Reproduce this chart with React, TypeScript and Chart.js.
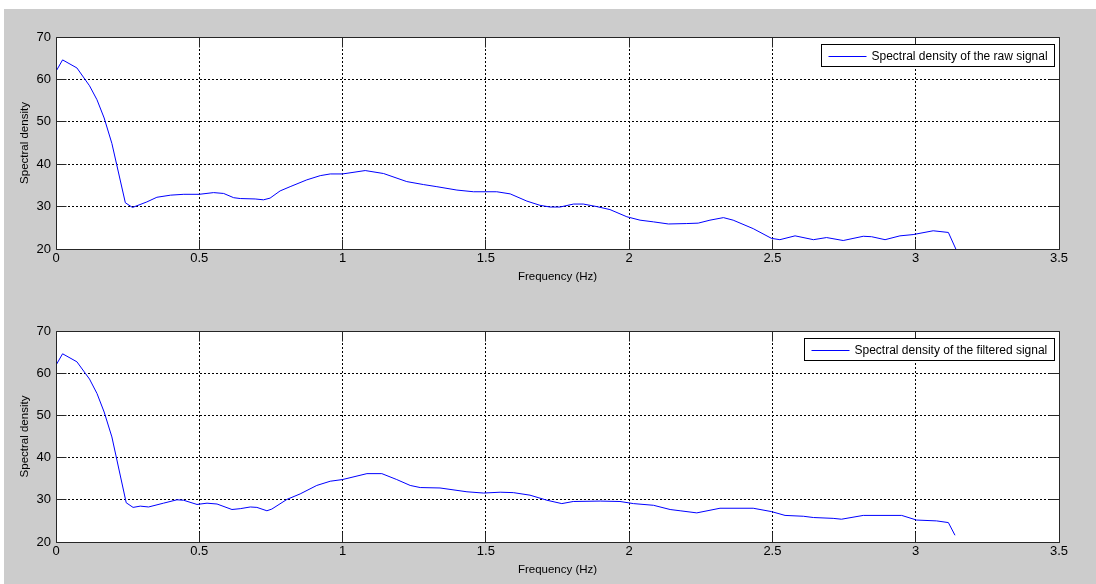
import React, { useEffect, useRef } from 'react';
import { Chart, registerables } from 'chart.js';

Chart.register(...registerables);

const xMin = 0;
const xMax = 3.5;
const xStep = 0.5;
const yMin = 20;
const yMax = 70;
const yStep = 10;

const xTitle = 'Frequency (Hz)';
const yTitle = 'Spectral density';
const rawLabel = 'Spectral density of the raw signal';
const filteredLabel = 'Spectral density of the filtered signal';

const rawFreq = [
  0, 0.023, 0.073, 0.117, 0.143, 0.168, 0.195, 0.242, 0.267, 0.317, 0.352, 0.4, 0.446, 0.5, 0.55, 0.585,
  0.62, 0.643, 0.695, 0.724, 0.747, 0.782, 0.817, 0.875, 0.922, 0.957, 1.0, 1.079, 1.143, 1.224, 1.282,
  1.329, 1.399, 1.457, 1.538, 1.585, 1.643, 1.689, 1.724, 1.759, 1.806, 1.84, 1.887, 1.933, 1.992, 2.038,
  2.085, 2.137, 2.201, 2.241, 2.282, 2.329, 2.363, 2.433, 2.497, 2.526, 2.579, 2.643, 2.689, 2.747, 2.817,
  2.846, 2.893, 2.945, 2.991, 3.061, 3.114, 3.14,
];
const rawDensity = [
  61.9, 64.6, 62.7, 58.5, 55.2, 50.9, 44.9, 30.9, 29.8, 31.1, 32.2, 32.7, 32.9, 32.9, 33.3, 33.1,
  32.1, 31.9, 31.8, 31.6, 32.0, 33.7, 34.7, 36.3, 37.3, 37.7, 37.7, 38.5, 37.8, 35.9, 35.2,
  34.7, 33.9, 33.5, 33.5, 33.0, 31.3, 30.3, 29.9, 29.9, 30.6, 30.6, 30.0, 29.3, 27.6, 26.8,
  26.4, 25.9, 26.0, 26.1, 26.8, 27.4, 26.8, 24.8, 22.5, 22.2, 23.1, 22.2, 22.7, 22.0, 23.0,
  22.9, 22.2, 23.1, 23.4, 24.3, 23.9, 20.0,
];

const filteredFreq = [
  0, 0.023, 0.073, 0.117, 0.143, 0.168, 0.195, 0.245, 0.269, 0.294, 0.323, 0.375, 0.422, 0.445, 0.492,
  0.527, 0.562, 0.614, 0.643, 0.678, 0.701, 0.736, 0.753, 0.806, 0.852, 0.91, 0.957, 1.0, 1.085, 1.137,
  1.189, 1.236, 1.271, 1.34, 1.434, 1.492, 1.55, 1.596, 1.654, 1.713, 1.765, 1.805, 1.899, 1.968, 2.015,
  2.085, 2.143, 2.178, 2.236, 2.317, 2.433, 2.497, 2.544, 2.608, 2.643, 2.712, 2.741, 2.817, 2.951, 3.003,
  3.073, 3.114, 3.137,
];
const filteredDensity = [
  61.9, 64.6, 62.7, 58.6, 55.2, 50.8, 44.9, 29.3, 28.2, 28.5, 28.3, 29.2, 30.0, 29.9, 28.9,
  29.2, 29.0, 27.7, 27.9, 28.3, 28.2, 27.4, 27.8, 30.1, 31.4, 33.4, 34.4, 34.8, 36.2, 36.2,
  34.8, 33.4, 32.9, 32.8, 31.9, 31.6, 31.8, 31.7, 31.1, 29.9, 29.1, 29.6, 29.7, 29.6, 29.1,
  28.7, 27.7, 27.4, 26.9, 28.0, 28.0, 27.2, 26.3, 26.1, 25.8, 25.6, 25.4, 26.3, 26.3, 25.2,
  25.0, 24.6, 21.6,
];

const FONT = '"Liberation Sans", Arial, Helvetica, sans-serif';
const LINE_COLOR = '#0000ff';
const FRAME_COLOR = '#262626';

const framePlugin = {
  id: 'matlabFrame',
  beforeDraw(chart: any) {
    const { ctx, chartArea } = chart;
    ctx.save();
    ctx.fillStyle = '#ffffff';
    ctx.fillRect(chartArea.left, chartArea.top, chartArea.right - chartArea.left, chartArea.bottom - chartArea.top);
    ctx.restore();
  },
  afterDatasetsDraw(chart: any) {
    const { ctx, chartArea } = chart;
    const xs = chart.scales.x;
    const ys = chart.scales.y;
    const L = Math.round(chartArea.left - 0.5) + 0.5;
    const R = Math.round(chartArea.right - 0.5) + 0.5;
    const T = Math.round(chartArea.top - 0.5) + 0.5;
    const B = Math.round(chartArea.bottom - 0.5) + 0.5;
    const tick = 10;
    ctx.save();
    ctx.strokeStyle = FRAME_COLOR;
    ctx.lineWidth = 1;
    ctx.setLineDash([]);
    ctx.beginPath();
    ctx.rect(L, T, R - L, B - T);
    ctx.stroke();
    ctx.beginPath();
    for (const t of xs.ticks) {
      const px = Math.round(xs.getPixelForValue(t.value) - 0.5) + 0.5;
      ctx.moveTo(px, B);
      ctx.lineTo(px, B - tick);
      ctx.moveTo(px, T);
      ctx.lineTo(px, T + tick);
    }
    for (const t of ys.ticks) {
      const py = Math.round(ys.getPixelForValue(t.value) - 0.5) + 0.5;
      ctx.moveTo(L, py);
      ctx.lineTo(L + tick, py);
      ctx.moveTo(R, py);
      ctx.lineTo(R - tick, py);
    }
    ctx.stroke();

    // legend box (MATLAB style, inside the axes, north-east)
    const ds = chart.data.datasets[0];
    ctx.font = `12px ${FONT}`;
    const tw = ctx.measureText(ds.label).width;
    const boxW = Math.round(50 + tw + 7);
    const boxH = 22;
    const bx = Math.round(chartArea.right - 5 - boxW) + 0.5;
    const by = Math.round(chartArea.top + 7) + 0.5;
    ctx.fillStyle = '#ffffff';
    ctx.fillRect(bx, by, boxW, boxH);
    ctx.strokeStyle = '#000000';
    ctx.strokeRect(bx, by, boxW, boxH);
    const my = Math.round(by + boxH / 2) + 0.5;
    ctx.strokeStyle = ds.borderColor;
    ctx.beginPath();
    ctx.moveTo(bx + 7, my);
    ctx.lineTo(bx + 45, my);
    ctx.stroke();
    ctx.fillStyle = '#000000';
    ctx.textBaseline = 'middle';
    ctx.textAlign = 'left';
    ctx.fillText(ds.label, bx + 50, my);
    ctx.restore();
  },
};

function edgeTransparent(min: number, max: number) {
  return (c: any) => {
    const v = c.tick ? c.tick.value : null;
    if (v === null || Math.abs(v - min) < 1e-9 || Math.abs(v - max) < 1e-9) return 'rgba(0,0,0,0)';
    return '#000000';
  };
}

const plainNumber = (v: any) => String(Math.round(Number(v) * 1000) / 1000);

type SubPlotProps = {
  freq: number[];
  values: number[];
  label: string;
  top: number;
  height: number;
  padTop: number;
  padBottom: number;
};

function SubPlot({ freq, values, label, top, height, padTop, padBottom }: SubPlotProps) {
  const ref = useRef<HTMLCanvasElement>(null);
  useEffect(() => {
    const chart = new Chart(ref.current as HTMLCanvasElement, {
      type: 'line',
      data: {
        datasets: [
          {
            label,
            data: freq.map((f, i) => ({ x: f, y: values[i] })),
            borderColor: LINE_COLOR,
            borderWidth: 1,
            pointRadius: 0,
            tension: 0,
            fill: false,
          },
        ],
      },
      options: {
        animation: false,
        responsive: false,
        devicePixelRatio: 1,
        events: [],
        layout: { padding: { left: 0, right: 37, top: padTop, bottom: padBottom } },
        plugins: {
          legend: { display: false },
          tooltip: { enabled: false },
        },
        scales: {
          x: {
            type: 'linear',
            min: xMin,
            max: xMax,
            ticks: {
              stepSize: xStep,
              padding: 2,
              maxRotation: 0,
              autoSkip: false,
              color: '#000000',
              font: { family: FONT, size: 13 },
              callback: plainNumber,
            },
            grid: { color: edgeTransparent(xMin, xMax), drawTicks: false, lineWidth: 1 },
            border: { display: false, dash: [2, 2] },
            title: {
              display: true,
              text: xTitle,
              color: '#000000',
              font: { family: FONT, size: 11.5 },
              padding: { top: 0, bottom: 5.5 },
            },
            afterFit: (s: any) => {
              s.height = 40;
            },
          },
          y: {
            type: 'linear',
            min: yMin,
            max: yMax,
            ticks: {
              stepSize: yStep,
              padding: 5,
              color: '#000000',
              font: { family: FONT, size: 13 },
              callback: plainNumber,
            },
            grid: { color: edgeTransparent(yMin, yMax), drawTicks: false, lineWidth: 1 },
            border: { display: false, dash: [2, 2] },
            title: {
              display: true,
              text: yTitle,
              color: '#000000',
              font: { family: FONT, size: 11.5 },
              padding: { top: 18, bottom: 0 },
            },
            afterFit: (s: any) => {
              s.width = 56;
            },
          },
        },
      } as any,
      plugins: [framePlugin as any],
    });
    return () => chart.destroy();
  }, []);
  return (
    <canvas
      ref={ref}
      width={1096}
      height={height}
      style={{ position: 'absolute', left: 0, top, width: 1096, height, display: 'block' }}
    />
  );
}

export default function App() {
  return (
    <div
      style={{
        position: 'absolute',
        left: 0,
        top: 0,
        width: 1096,
        height: 584,
        background: '#ffffff',
        overflow: 'hidden',
      }}
    >
      <div style={{ position: 'absolute', left: 4, top: 9, right: 0, bottom: 0, background: '#cccccc' }} />
      <SubPlot freq={rawFreq} values={rawDensity} label={rawLabel} top={0} height={292} padTop={37} padBottom={3} />
      <SubPlot
        freq={filteredFreq}
        values={filteredDensity}
        label={filteredLabel}
        top={292}
        height={292}
        padTop={39}
        padBottom={2}
      />
    </div>
  );
}
